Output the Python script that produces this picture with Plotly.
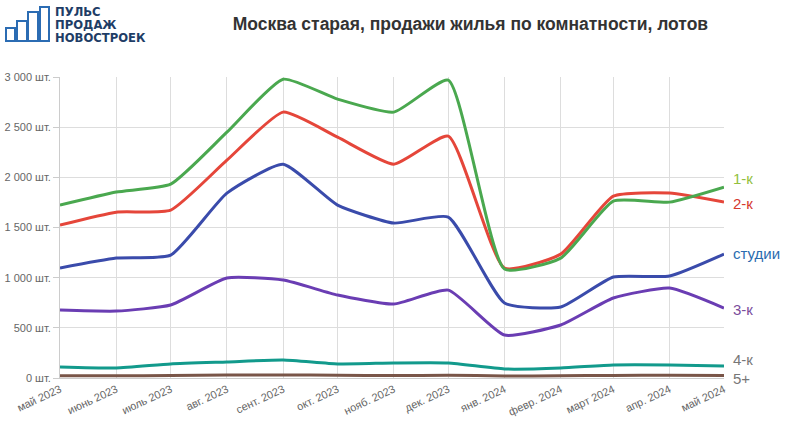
import plotly.graph_objects as go

months = ["2023-05-01", "2023-06-01", "2023-07-01", "2023-08-01", "2023-09-01", "2023-10-01",
          "2023-11-01", "2023-12-01", "2024-01-01", "2024-02-01", "2024-03-01", "2024-04-01", "2024-05-01"]
tick_labels = ["май 2023", "июнь 2023", "июль 2023", "авг. 2023", "сент. 2023", "окт. 2023",
               "нояб. 2023", "дек. 2023", "янв. 2024", "февр. 2024", "март 2024", "апр. 2024", "май 2024"]

studios = [1096, 1195, 1225, 1843, 2131, 1723, 1544, 1604, 747, 707, 1006, 1016, 1235]
room1 = [1723, 1853, 1932, 2450, 2978, 2779, 2650, 2968, 1086, 1195, 1763, 1753, 1902]
room2 = [1524, 1653, 1673, 2171, 2650, 2400, 2131, 2410, 1096, 1235, 1813, 1843, 1753]
room3 = [677, 667, 727, 996, 976, 827, 737, 876, 428, 528, 797, 896, 697]
room4 = [110, 100, 140, 160, 180, 140, 150, 150, 90, 100, 130, 130, 120]
room5 = [22, 22, 24, 30, 30, 28, 24, 28, 20, 22, 26, 28, 26]

y_ticks = [0, 500, 1000, 1500, 2000, 2500, 3000]
y_tick_labels = ["0 шт.", "500 шт.", "1 000 шт.", "1 500 шт.", "2 000 шт.", "2 500 шт.", "3 000 шт."]

series = [
    ("5+", room5, "#795548", "#777777", 0.0),
    ("4-к", room4, "#129a8c", "#777777", 0.063),
    ("3-к", room3, "#6a3db3", "#7a4d9c", 0.229),
    ("студии", studios, "#3a4bab", "#2a6cb0", 0.412),
    ("2-к", room2, "#e5463a", "#d6392e", 0.581),
    ("1-к", room1, "#4aa84f", "#92bf3e", 0.664),
]

fig = go.Figure()
for name, vals, col, lab_col, lab_y in series:
    fig.add_trace(go.Scatter(x=months, y=vals, mode="lines", name=name,
                             line=dict(color=col, width=3, shape="spline", smoothing=0.5),
                             hoverinfo="skip"))
    fig.add_annotation(xref="paper", yref="paper", x=1.0, y=lab_y, text=name,
                       showarrow=False, xanchor="left", yanchor="middle", xshift=7,
                       font=dict(size=15, color=lab_col, family="Liberation Sans, Arial"))

# logo
logo_col = "#2b6cb3"
bars = [(6, 28, 15, 41), (17, 21, 27, 41), (28, 12, 38, 41), (40, 7, 49, 41)]
for x0, y0, x1, y1 in bars:
    fig.add_shape(type="rect", xref="paper", yref="paper",
                  x0=(x0 - 60) / 664, x1=(x1 - 60) / 664,
                  y0=(378 - y0) / 301, y1=(378 - y1) / 301,
                  line=dict(color=logo_col, width=2), fillcolor="rgba(0,0,0,0)")
for i, t in enumerate(["ПУЛЬС", "ПРОДАЖ", "НОВОСТРОЕК"]):
    fig.add_annotation(xref="paper", yref="paper", x=(53 - 60) / 664, y=(378 - (12 + i * 13)) / 301,
                       text="<b>" + t + "</b>", showarrow=False, xanchor="left", yanchor="middle",
                       font=dict(size=11.6, color="#1e3d66", family="DejaVu Sans"))

fig.update_layout(
    width=800, height=431,
    margin=dict(l=60, r=76, t=77, b=53, autoexpand=False),
    paper_bgcolor="white", plot_bgcolor="white",
    showlegend=False,
    title=dict(text="<b>Москва старая, продажи жилья по комнатности, лотов</b>",
               x=0.588, xanchor="center", y=0.945, yanchor="middle",
               font=dict(size=17.5, color="#333333", family="Liberation Sans, Arial")),
    font=dict(family="Liberation Sans, Arial", size=11, color="#666666"),
    xaxis=dict(type="date", range=[months[0], months[-1]], tickvals=months, ticktext=tick_labels,
               tickangle=-25, showgrid=True, gridcolor="#dddddd", gridwidth=1, automargin=False,
               showline=True, linecolor="#cccccc", ticks="", zeroline=False,
               tickfont=dict(size=11, color="#666666")),
    yaxis=dict(range=[0, 3000], tickvals=y_ticks, ticktext=y_tick_labels, automargin=False,
               showgrid=True, gridcolor="#dddddd", gridwidth=1, showline=True, linecolor="#cccccc",
               ticks="outside", ticklen=6, tickcolor="#cccccc", zeroline=False,
               tickfont=dict(size=11, color="#666666")),
)

fig.write_html("out.html", config={"displayModeBar": False},
               post_script="document.body.style.margin='0';")
